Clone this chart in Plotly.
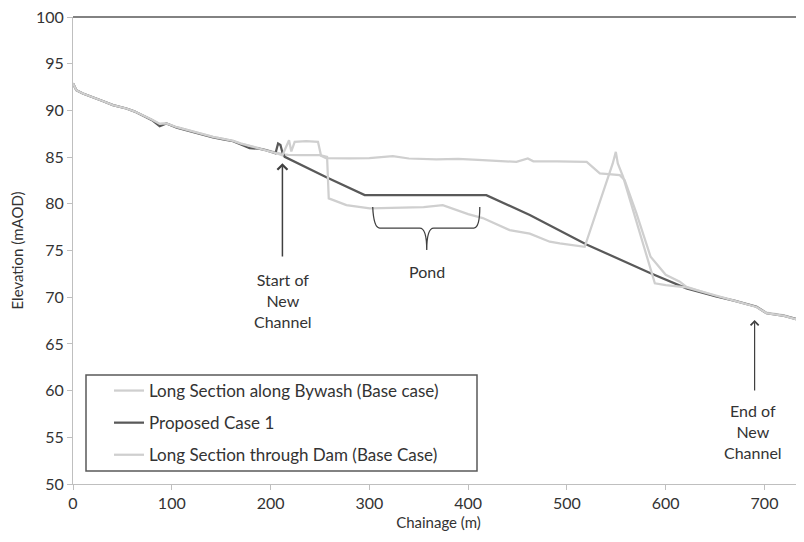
import plotly.graph_objects as go

# ---- data (chainage m, elevation mAOD) ----
common_x = [0, 3.4, 10, 20, 30, 40.5, 54, 62, 70.9, 80, 87.8, 94.5, 105, 121.5, 130, 141.7, 152, 162, 170, 178.8, 188, 195, 202.4]
common_y = [92.9, 92.16, 91.8, 91.44, 91.0, 90.56, 90.2, 89.9, 89.49, 89.0, 88.55, 88.6, 88.2, 87.7, 87.45, 87.17, 86.95, 86.74, 86.45, 86.2, 85.95, 85.8, 85.56]

proposed_x = [0, 3.4, 10, 20, 30, 40.5, 54, 62, 70.9, 80, 87.8, 94.5, 105, 121.5, 130, 141.7, 152, 162, 170, 178.8, 188, 195, 202.4,
              205, 207.6, 210, 212, 214.3, 256.5, 295.3, 418.4, 462.4, 519.8, 584.7, 621, 650, 670, 691.9, 702, 720, 735.7, 740]
proposed_y = [92.9, 92.16, 91.8, 91.44, 91.0, 90.56, 90.2, 89.9, 89.45, 88.95, 88.3, 88.6, 88.15, 87.65, 87.4, 87.1, 86.9, 86.7, 86.35, 85.95, 85.9, 85.75, 85.5,
              85.4, 86.45, 86.3, 85.5, 85.03, 82.85, 80.93, 80.93, 78.79, 75.65, 72.56, 70.95, 70.1, 69.6, 68.98, 68.28, 68.0, 67.56, 67.4]

bywash_x = common_x + [208, 213, 218, 230, 250, 256, 280, 300, 323.7, 340, 367.9, 390, 414.8, 448.9, 460.4, 466, 490, 520, 533.3, 553.5, 558.4,
                       570.4, 584.7, 600, 614.3, 621, 650, 670, 691.9, 702, 720, 740]
bywash_y = common_y + [85.4, 85.3, 85.25, 85.2, 85.2, 84.9, 84.86, 84.9, 85.1, 84.85, 84.75, 84.8, 84.67, 84.49, 84.86, 84.55, 84.55, 84.49, 83.25, 83.07, 82.54,
                       78.97, 74.33, 72.4, 71.66, 71.1, 70.15, 69.65, 69.0, 68.35, 68.05, 67.4]

dam_x = common_x + [208, 212, 215, 218.7, 221, 224.4, 236, 248, 251, 257.2, 258.9, 276.8, 300.4, 330.8, 355, 374.3, 388.2, 400, 414.8, 442, 462.4,
                    482.6, 492.8, 518, 546.4, 549.5, 551.5, 556.9, 589, 600, 621, 650, 670, 691.9, 702, 720, 740]
dam_y = common_y + [85.35, 85.2, 86.0, 86.8, 85.6, 86.63, 86.7, 86.63, 85.2, 85.03, 80.58, 79.86, 79.5, 79.6, 79.65, 79.86, 79.33, 78.9, 78.47, 77.19, 76.8,
                    75.94, 75.76, 75.4, 84.32, 85.56, 84.32, 82.89, 71.49, 71.3, 71.05, 70.15, 69.6, 68.95, 68.3, 68.0, 67.4]

series_names = ["Long Section along Bywash (Base case)", "Proposed Case 1", "Long Section through Dam (Base Case)"]
x_ticks = [0, 100, 200, 300, 400, 500, 600, 700]
y_ticks = [50, 55, 60, 65, 70, 75, 80, 85, 90, 95, 100]

FONT = "Lato"
TXT = "#333333"
LIGHT = "#cfcfcf"
DARK = "#595959"

# the page body has an 8px margin, so the figure is drawn 8px in from the window corner
OFF = 8
W, H = 804 - OFF, 542 - OFF
ML, MR, MT, MB = 73 - OFF, 0, 17 - OFF, 58
PW, PH = W - ML - MR, H - MT - MB


def px_x(p):  # window pixel -> paper fraction
    return (p - OFF - ML) / PW


def px_y(p):
    return (H - MB - (p - OFF)) / PH


fig = go.Figure()
fig.add_trace(go.Scatter(x=bywash_x, y=bywash_y, mode="lines", name=series_names[0],
                         line=dict(color=LIGHT, width=2.25), legendgroup="a"))
fig.add_trace(go.Scatter(x=proposed_x, y=proposed_y, mode="lines", name=series_names[1],
                         line=dict(color=DARK, width=2.25), legendgroup="b"))
fig.add_trace(go.Scatter(x=dam_x, y=dam_y, mode="lines", name=series_names[2],
                         line=dict(color=LIGHT, width=2.25), legendgroup="c"))

axis_common = dict(showline=True, linecolor="#bfbfbf", linewidth=1, ticks="outside", ticklen=5,
                   tickcolor="#bfbfbf", showgrid=False, zeroline=False, automargin=False,
                   ticklabeloverflow="allow",
                   tickfont=dict(family=FONT, size=16, color=TXT))

fig.update_xaxes(range=[0, 740], tickvals=x_ticks, **axis_common,
                 title=dict(text="Chainage (m)", font=dict(family=FONT, size=15, color=TXT), standoff=6))
fig.update_yaxes(range=[50, 100], tickvals=y_ticks, **axis_common,
                 title=dict(text="Elevation (mAOD)", font=dict(family=FONT, size=15, color=TXT), standoff=14))

# top border line at 100
fig.add_shape(type="line", xref="paper", yref="paper", x0=0, x1=1, y0=1, y1=1,
              line=dict(color="#595959", width=1.3))

# legend frame
fig.add_shape(type="rect", xref="paper", yref="paper",
              x0=px_x(86), x1=px_x(477), y0=px_y(471), y1=px_y(375),
              line=dict(color="#595959", width=1.5), fillcolor="white", layer="above")

# Pond brace
fig.add_shape(type="path", xref="x", yref="y",
              path="M 303.4,79.65 Q 304.4,77.4 310.5,77.4 L 351.0,77.4 Q 358.1,77.4 358.1,75.05 "
                   "Q 358.1,77.4 365.2,77.4 L 405.7,77.4 Q 411.8,77.4 411.8,79.65",
              line=dict(color="#404040", width=1.3))

ann_font = dict(family=FONT, size=16, color=TXT)
fig.add_annotation(x=358.1, y=72.7, xref="x", yref="y", text="Pond", showarrow=False, font=ann_font)
fig.add_annotation(x=212.3, y=69.7, xref="x", yref="y", text="Start of<br>New<br>Channel",
                   showarrow=False, font=ann_font)
fig.add_annotation(x=688.2, y=55.6, xref="x", yref="y", text="End of<br>New<br>Channel",
                   showarrow=False, font=ann_font)
# arrows
fig.add_annotation(x=212, y=84.35, ax=212, ay=74.2, xref="x", yref="y", axref="x", ayref="y",
                   text="", showarrow=True, arrowhead=4, arrowsize=1.3, arrowwidth=1.5, arrowcolor="#404040")
fig.add_annotation(x=690, y=67.56, ax=690, ay=59.86, xref="x", yref="y", axref="x", ayref="y",
                   text="", showarrow=True, arrowhead=4, arrowsize=1.3, arrowwidth=1.2, arrowcolor="#404040")

fig.update_layout(
    width=W, height=H,
    margin=dict(l=ML, r=MR, t=MT, b=MB),
    paper_bgcolor="white", plot_bgcolor="white",
    font=dict(family=FONT, color=TXT),
    legend=dict(x=px_x(109), y=px_y(373), xanchor="left", yanchor="top",
                bgcolor="rgba(0,0,0,0)", borderwidth=0,
                font=dict(family=FONT, size=17, color=TXT),
                traceorder="grouped", tracegroupgap=7, itemwidth=30),
)

fig.write_html("out.html")
